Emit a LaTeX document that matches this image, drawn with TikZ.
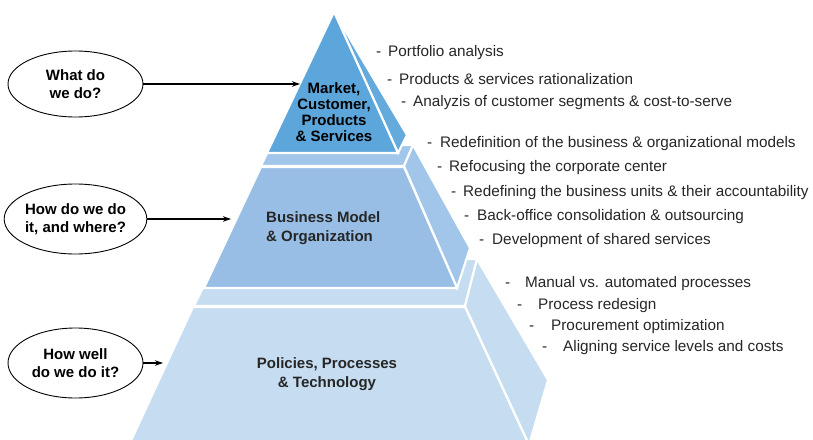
\documentclass[tikz,border=0pt]{standalone}
\usepackage{fontspec}
\setmainfont{Liberation Sans}
\usetikzlibrary{shapes.geometric,arrows.meta}
\definecolor{lvlA}{HTML}{5CA6DB}
\definecolor{lvlAs}{HTML}{64AADD}
\definecolor{lvlB}{HTML}{98BEE5}
\definecolor{lvlBs}{HTML}{A2C6EA}
\definecolor{lvlC}{HTML}{C6DCF1}
\definecolor{txt}{HTML}{262626}
\tikzset{
  face/.style={draw=white, line width=2.1pt, line join=miter},
  question/.style={ellipse, draw=black, line width=0.9pt, minimum width=135pt, minimum height=66pt, inner sep=0pt, align=center, font=\fontsize{15}{18}\selectfont\bfseries},
  link/.style={-{Stealth[length=8pt,width=5.5pt]}, line width=1.1pt},
  item/.style={anchor=west, inner sep=0pt, text=txt, font=\fontsize{15.3}{18}\selectfont},
  ptext/.style={inner sep=0pt, font=\fontsize{15}{16}\selectfont\bfseries}
}
\begin{document}
\begin{tikzpicture}[x=1pt,y=-1pt]
\useasboundingbox (0,0) rectangle (813,439);
% level 3
\draw[face,fill=lvlC] (217,259) -- (477,259) -- (465,306) -- (194,306) -- cycle;
\draw[face,fill=lvlC] (465,306) -- (477,259) -- (548,380) -- (529,445) -- cycle;
\draw[face,fill=lvlC] (193,307) -- (465,307) -- (529,445) -- (129,445) -- cycle;
% level 2
\draw[face,fill=lvlBs] (261,166) -- (271,145) -- (413,145) -- (404,166) -- cycle;
\draw[face,fill=lvlBs] (404,166) -- (413,145) -- (470,248) -- (457,288) -- cycle;
\draw[face,fill=lvlB] (261,167) -- (404,167) -- (457,288) -- (204,288) -- cycle;
% level 1
\draw[face,fill=lvlAs] (334,12) -- (407,135) -- (398,153) -- cycle;
\draw[face,fill=lvlA] (334,12) -- (398,153) -- (267,153) -- cycle;

% pyramid labels
\node[ptext, align=center, text=black] (top) at (334,112) {Market,\\Customer,\\Products\\\& Services};
\node[ptext, align=left, text=txt, anchor=west, font=\fontsize{15}{19}\selectfont\bfseries] (mid) at (266,228) {Business Model\\\& Organization};
\node[ptext, align=center, text=txt, font=\fontsize{15}{18.5}\selectfont\bfseries] (bot) at (327,374) {Policies, Processes\\\& Technology};

% questions
\node[question] (q1) at (75.5,84) {What do\\we do?};
\node[question, minimum height=70pt] (q2) at (75.5,219) {How do we do\\it, and where?};
\node[question, minimum height=70pt] (q3) at (75.5,363) {How well\\do we do it?};
\coordinate (t1) at (300,84);
\coordinate (t2) at (231,219);
\coordinate (t3) at (163,363);
\draw[link] (q1.east) -- (t1);
\draw[link] (q2.east) -- (t2);
\draw[link] (q3.east) -- (t3);

% lists
\node[item] (a1) at (376,53) {\makebox[12pt][l]{-}Portfolio analysis};
\node[item] (a2) at (387,79) {\makebox[12pt][l]{-}Products \& services rationalization};
\node[item] (a3) at (401,103) {\makebox[12pt][l]{-}Analyzis of customer segments \& cost-to-serve};
\node[item] (b1) at (427,144) {\makebox[13pt][l]{-}Redefinition of the business \& organizational models};
\node[item] (b2) at (437,168) {\makebox[12pt][l]{-}Refocusing the corporate center};
\node[item] (b3) at (451,193) {\makebox[12pt][l]{-}Redefining the business units \& their accountability};
\node[item] (b4) at (464,217) {\makebox[13pt][l]{-}Back-office consolidation \& outsourcing};
\node[item] (b5) at (479,241) {\makebox[13pt][l]{-}Development of shared services};
\node[item] (c1) at (505,284) {\makebox[20pt][l]{-}Manual vs. automated processes};
\node[item] (c2) at (517,306) {\makebox[21pt][l]{-}Process redesign};
\node[item] (c3) at (529,327) {\makebox[22pt][l]{-}Procurement optimization};
\node[item] (c4) at (542,348) {\makebox[21pt][l]{-}Aligning service levels and costs};
\end{tikzpicture}
\end{document}
